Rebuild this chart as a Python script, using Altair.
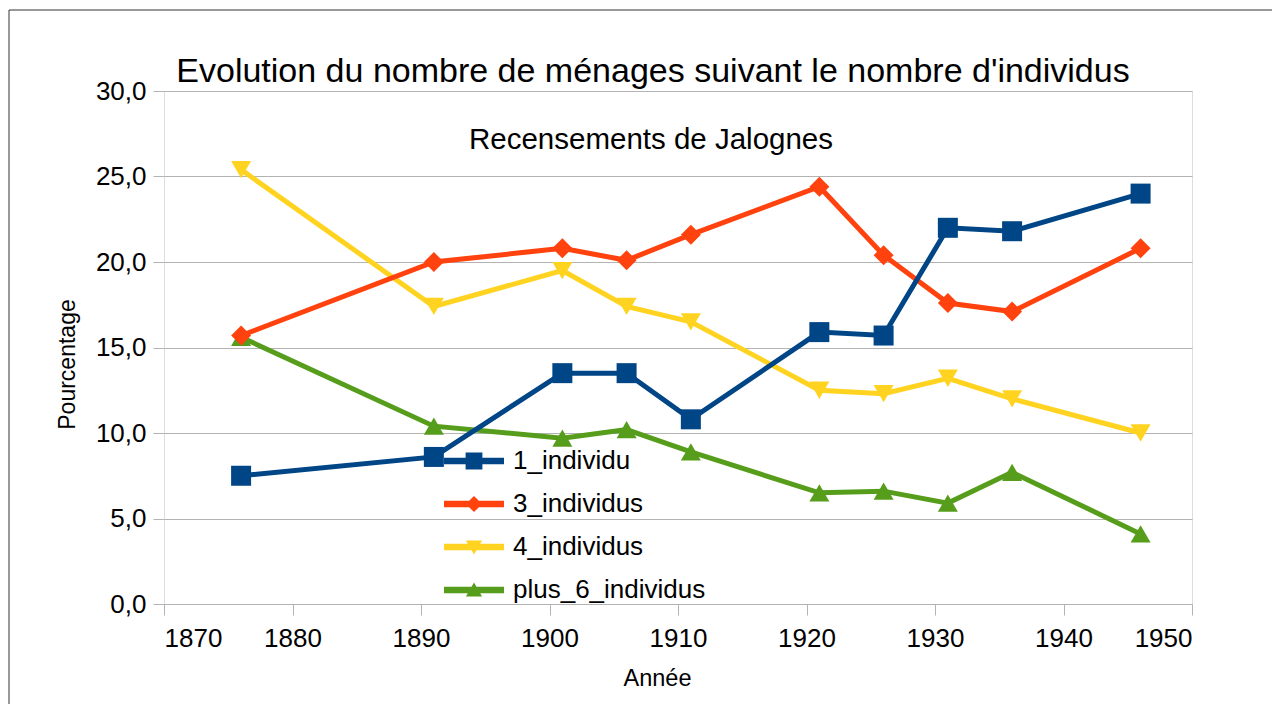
import altair as alt
import pandas as pd

# ---------------- data ----------------
years = [1876, 1891, 1901, 1906, 1911, 1921, 1926, 1931, 1936, 1946]
un_individu = [7.5, 8.6, 13.5, 13.5, 10.8, 15.9, 15.7, 22.0, 21.8, 24.0]
trois_individus = [15.7, 20.0, 20.8, 20.1, 21.6, 24.4, 20.4, 17.6, 17.1, 20.8]
quatre_individus = [25.4, 17.4, 19.5, 17.4, 16.5, 12.5, 12.3, 13.2, 12.0, 10.0]
plus_6_individus = [15.6, 10.4, 9.7, 10.2, 8.9, 6.5, 6.6, 5.9, 7.7, 4.1]

series_names = ["1_individu", "3_individus", "4_individus", "plus_6_individus"]
series_colors = ["#004586", "#ff420e", "#ffd320", "#579d1c"]
marker_keys = ["m1", "m3", "m4", "m6"]
series_shapes = ["square", "diamond", "triangle-down", "triangle-up"]

x_ticks = [1870, 1880, 1890, 1900, 1910, 1920, 1930, 1940, 1950]
y_ticks = [0, 5, 10, 15, 20, 25, 30]

title_text = "Evolution du nombre de ménages suivant le nombre d'individus"
subtitle_text = "Recensements de Jalognes"
x_title = "Année"
y_title = "Pourcentage"

FONT = "Liberation Sans"

# long table, drawn bottom series first so "1_individu" ends on top
values_by_series = {
    "1_individu": un_individu,
    "3_individus": trois_individus,
    "4_individus": quatre_individus,
    "plus_6_individus": plus_6_individus,
}
marker_of = dict(zip(series_names, marker_keys))
rows = []
for name in reversed(series_names):
    for yr, v in zip(years, values_by_series[name]):
        rows.append({"annee": yr, "pct": v, "serie": name, "marqueur": marker_of[name]})
df = pd.DataFrame(rows)

# legend symbols: a line with the series marker on it
line_part = "M-1,-0.11H1V0.11H-1Z "
legend_paths = {
    "1_individu": line_part + "M-0.28,-0.28H0.28V0.28H-0.28Z",
    "3_individus": line_part + "M0,-0.27L0.27,0L0,0.27L-0.27,0Z",
    "4_individus": line_part + "M-0.27,-0.22L0.27,-0.22L0,0.25Z",
    "plus_6_individus": line_part + "M0,-0.25L0.27,0.22L-0.27,0.22Z",
}
shape_expr = "'" + legend_paths[series_names[-1]] + "'"
for name in reversed(series_names[:-1]):
    shape_expr = f"datum.value === '{name}' ? '{legend_paths[name]}' : ({shape_expr})"

W, H = 1028, 513

x_enc = alt.X(
    "annee:Q",
    scale=alt.Scale(domain=[1870, 1950], nice=False, zero=False),
    axis=alt.Axis(
        values=x_ticks, format="d", grid=False, domain=False,
        tickColor="#b3b3b3", tickSize=11, tickWidth=1,
        labelFontSize=26, labelFont=FONT, labelColor="black", labelPadding=10,
        title=x_title, titleFont=FONT, titleFontSize=23.5, titleFontWeight="normal",
        titleColor="black", titleX=493, titleY=81, titleBaseline="alphabetic",
        titleAlign="center",
    ),
)
y_enc = alt.Y(
    "pct:Q",
    scale=alt.Scale(domain=[0, 30], nice=False, zero=True),
    axis=alt.Axis(
        values=y_ticks, labelExpr="replace(format(datum.value, '.1f'), '.', ',')",
        grid=True, gridColor="#b3b3b3", gridWidth=1, domain=False,
        tickColor="#b3b3b3", tickSize=11, tickWidth=1,
        labelFontSize=26, labelFont=FONT, labelColor="black", labelPadding=7,
        title=y_title, titleFont=FONT, titleFontSize=23, titleFontWeight="normal",
        titleColor="black", titleX=-90, titleY=273, titleAngle=270,
        titleBaseline="alphabetic", titleAlign="center",
    ),
)
color_scale = alt.Scale(domain=series_names, range=series_colors)
color_legend = alt.Legend(
    title=None, orient="none", legendX=280, legendY=340,
    direction="vertical", padding=0,
    symbolSize=3600, symbolStrokeWidth=0, symbolOpacity=1,
    symbolType=alt.ExprRef(expr=shape_expr),
    labelFont=FONT, labelFontSize=26, labelColor="black", labelOffset=9,
    labelLimit=400, rowPadding=0,
)

lines = alt.Chart(df).mark_line(strokeWidth=5).encode(
    x=x_enc,
    y=y_enc,
    color=alt.Color("serie:N", scale=color_scale, legend=color_legend),
)

points = alt.Chart(df).mark_point(filled=True, size=400, opacity=1).encode(
    x=x_enc,
    y=y_enc,
    color=alt.Color("serie:N", scale=color_scale, legend=color_legend),
    shape=alt.Shape(
        "marqueur:N",
        scale=alt.Scale(domain=marker_keys, range=series_shapes),
        legend=None,
    ),
)

one = pd.DataFrame({"t": [title_text], "s": [subtitle_text]})

title_mark = alt.Chart(one).mark_text(
    font=FONT, fontSize=34, color="black", align="center", baseline="alphabetic"
).encode(x=alt.value(489), y=alt.value(-9), text="t:N")

subtitle_mark = alt.Chart(one).mark_text(
    font=FONT, fontSize=29.5, color="black", align="center", baseline="alphabetic"
).encode(x=alt.value(487), y=alt.value(58), text="s:N")

frame_left = alt.Chart(one).mark_rule(color="#333333", strokeWidth=1).encode(
    x=alt.value(-155), y=alt.value(-81), y2=alt.value(H + 400)
)
frame_top = alt.Chart(one).mark_rule(color="#333333", strokeWidth=1).encode(
    y=alt.value(-81), x=alt.value(-155), x2=alt.value(W + 400)
)

chart = alt.layer(frame_left, frame_top, lines, points, subtitle_mark, title_mark).properties(
    width=W,
    height=H,
    autosize=alt.AutoSizeParams(type="none"),
    padding={"left": 156, "top": 83, "right": 80, "bottom": 100},
    background="white",
).configure_view(
    stroke="#b3b3b3", strokeWidth=1
).configure(font=FONT)

chart.save("out.html", embed_options={"renderer": "svg", "actions": False})
